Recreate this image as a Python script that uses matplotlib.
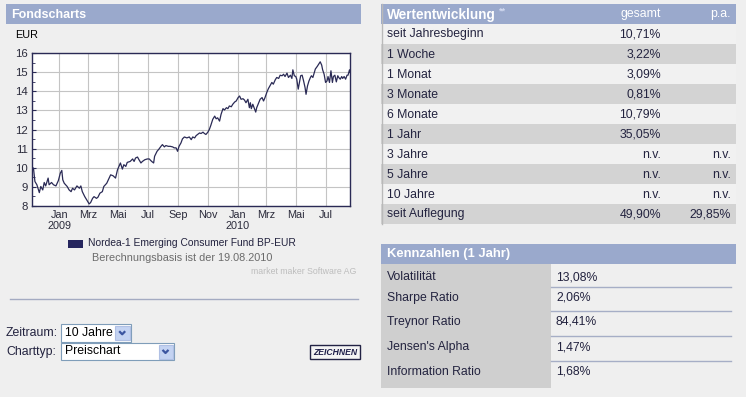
import numpy as np
import matplotlib
matplotlib.use("Agg")
import matplotlib.pyplot as plt
import matplotlib.dates as mdates
from matplotlib.patches import Rectangle

plt.rcParams['font.family'] = ['Liberation Sans', 'DejaVu Sans']

# price series (EUR)
dates = [
    "2008-11-06", "2008-11-09", "2008-11-12", "2008-11-16", "2008-11-21", "2008-11-24",
    "2008-11-28", "2008-12-01", "2008-12-04", "2008-12-09", "2008-12-11", "2008-12-16",
    "2008-12-20", "2008-12-25", "2008-12-30", "2009-01-03", "2009-01-06", "2009-01-08",
    "2009-01-11", "2009-01-17", "2009-01-21", "2009-01-25", "2009-01-28", "2009-02-01",
    "2009-02-06", "2009-02-11", "2009-02-14", "2009-02-17", "2009-02-22", "2009-02-28",
    "2009-03-03", "2009-03-06", "2009-03-10", "2009-03-13", "2009-03-18", "2009-03-21",
    "2009-03-25", "2009-03-30", "2009-04-02", "2009-04-08", "2009-04-13", "2009-04-16",
    "2009-04-21", "2009-04-26", "2009-04-30", "2009-05-03", "2009-05-06", "2009-05-10",
    "2009-05-13", "2009-05-17", "2009-05-20", "2009-05-26", "2009-05-31", "2009-06-03",
    "2009-06-06", "2009-06-10", "2009-06-13", "2009-06-17", "2009-06-20", "2009-06-25",
    "2009-06-30", "2009-07-04", "2009-07-09", "2009-07-13", "2009-07-15", "2009-07-20",
    "2009-07-24", "2009-07-28", "2009-07-31", "2009-08-04", "2009-08-07", "2009-08-12",
    "2009-08-16", "2009-08-21", "2009-08-24", "2009-08-28", "2009-08-31", "2009-09-03",
    "2009-09-07", "2009-09-10", "2009-09-14", "2009-09-19", "2009-09-24", "2009-09-28",
    "2009-10-01", "2009-10-05", "2009-10-08", "2009-10-11", "2009-10-15", "2009-10-18",
    "2009-10-22", "2009-10-25", "2009-10-28", "2009-11-01", "2009-11-04", "2009-11-07",
    "2009-11-11", "2009-11-15", "2009-11-18", "2009-11-21", "2009-11-25", "2009-11-28",
    "2009-12-02", "2009-12-05", "2009-12-09", "2009-12-12", "2009-12-15", "2009-12-19",
    "2009-12-22", "2009-12-26", "2009-12-29", "2010-01-02", "2010-01-05", "2010-01-08",
    "2010-01-12", "2010-01-15", "2010-01-18", "2010-01-22", "2010-01-25", "2010-01-27",
    "2010-01-29", "2010-02-01", "2010-02-05", "2010-02-07", "2010-02-09", "2010-02-13",
    "2010-02-16", "2010-02-20", "2010-02-23", "2010-02-26", "2010-03-02", "2010-03-05",
    "2010-03-09", "2010-03-12", "2010-03-15", "2010-03-19", "2010-03-22", "2010-03-26",
    "2010-03-29", "2010-04-02", "2010-04-05", "2010-04-08", "2010-04-12", "2010-04-15",
    "2010-04-19", "2010-04-22", "2010-04-24", "2010-04-27", "2010-04-30", "2010-05-02",
    "2010-05-05", "2010-05-08", "2010-05-10", "2010-05-13", "2010-05-16", "2010-05-19",
    "2010-05-21", "2010-05-24", "2010-05-27", "2010-05-30", "2010-06-01", "2010-06-04",
    "2010-06-07", "2010-06-09", "2010-06-13", "2010-06-16", "2010-06-19", "2010-06-22",
    "2010-06-24", "2010-06-27", "2010-06-30", "2010-07-03", "2010-07-05", "2010-07-08",
    "2010-07-11", "2010-07-14", "2010-07-16", "2010-07-19", "2010-07-22", "2010-07-25",
    "2010-07-27", "2010-07-30", "2010-08-02", "2010-08-04", "2010-08-07", "2010-08-10",
    "2010-08-13", "2010-08-15", "2010-08-18", "2010-08-19",
]
prices = [
    10.02, 9.98, 9.28, 9.11, 8.70, 9.02,
    8.84, 9.23, 9.05, 9.46, 9.11, 9.23,
    9.11, 9.05, 9.33, 9.72, 9.86, 9.37,
    9.19, 9.02, 8.84, 8.75, 8.93, 8.84,
    9.05, 8.93, 9.05, 8.75, 8.49, 8.23,
    8.11, 8.18, 8.40, 8.49, 8.40, 8.46,
    8.67, 8.75, 9.02, 9.19, 9.46, 9.63,
    9.58, 9.46, 9.89, 10.07, 10.25, 9.93,
    10.16, 10.07, 10.28, 10.33, 10.46, 10.33,
    10.51, 10.56, 10.42, 10.25, 10.33, 10.42,
    10.46, 10.46, 10.33, 10.25, 10.60, 10.86,
    10.98, 11.12, 11.21, 11.09, 11.16, 11.12,
    11.12, 11.09, 11.04, 11.04, 10.86, 11.12,
    11.30, 11.51, 11.61, 11.56, 11.61, 11.47,
    11.61, 11.56, 11.68, 11.74, 11.82, 11.79,
    11.86, 11.79, 11.74, 11.86, 12.00, 12.21,
    12.53, 12.70, 12.56, 12.61, 12.44, 12.79,
    13.09, 13.02, 13.14, 13.09, 13.23, 13.19,
    13.32, 13.44, 13.49, 13.67, 13.75, 13.58,
    13.61, 13.54, 13.40, 13.58, 13.14, 13.40,
    13.09, 13.32, 13.05, 12.91, 13.14, 13.40,
    13.58, 13.67, 13.49, 13.67, 13.96, 14.14,
    14.32, 14.46, 14.37, 14.60, 14.72, 14.67,
    14.84, 14.81, 14.89, 14.77, 14.95, 14.72,
    14.84, 14.67, 15.12, 14.81, 14.77, 14.63,
    14.11, 14.54, 14.81, 14.84, 14.54, 14.19,
    13.84, 14.28, 14.54, 14.72, 14.81, 14.72,
    14.98, 15.16, 15.30, 15.42, 15.54, 15.37,
    15.12, 14.89, 14.46, 14.54, 14.77, 14.46,
    15.07, 14.46, 14.77, 14.84, 14.49, 14.81,
    14.72, 14.63, 14.77, 14.67, 14.77, 14.63,
    14.84, 14.84, 15.12, 14.98,
]

fund_name = "Nordea-1 Emerging Consumer Fund BP-EUR"
basis_text = "Berechnungsbasis ist der 19.08.2010"
month_names = ["Jan", "Feb", "Mrz", "Apr", "Mai", "Jun",
               "Jul", "Aug", "Sep", "Okt", "Nov", "Dez"]

perf_labels = ["seit Jahresbeginn", "1 Woche", "1 Monat", "3 Monate", "6 Monate",
               "1 Jahr", "3 Jahre", "5 Jahre", "10 Jahre", "seit Auflegung"]
perf_total = ["10,71%", "3,22%", "3,09%", "0,81%", "10,79%",
              "35,05%", "n.v.", "n.v.", "n.v.", "49,90%"]
perf_pa = ["", "", "", "", "", "", "n.v.", "n.v.", "n.v.", "29,85%"]

kenn_labels = ["Volatilität", "Sharpe Ratio", "Treynor Ratio",
               "Jensen's Alpha", "Information Ratio"]
kenn_values = ["13,08%", "2,06%", "84,41%", "1,47%", "1,68%"]

W, H = 746, 397
BG = "#efefef"
HEAD = "#9aa9cc"
TXT = "#23233f"
ROW_LIGHT = "#f1f1f1"
ROW_DARK = "#d3d3d3"
FS = 8.8

fig = plt.figure(figsize=(W / 100, H / 100), dpi=100, facecolor=BG)

# page layer in pixel coordinates
pg = fig.add_axes([0, 0, 1, 1], zorder=0)
pg.set_xlim(0, W)
pg.set_ylim(H, 0)
pg.axis("off")


def box(x0, y0, x1, y1, fc, ec="none", lw=0.8):
    pg.add_patch(Rectangle((x0, y0), x1 - x0, y1 - y0, facecolor=fc,
                           edgecolor=ec, linewidth=lw))


def txt(x, y, s, **kw):
    kw.setdefault("fontsize", FS)
    kw.setdefault("color", TXT)
    kw.setdefault("va", "center")
    pg.text(x, y, s, **kw)


# --- left panel: Fondscharts ---
box(6, 4, 361, 24, HEAD)
txt(11, 14.5, "Fondscharts", color="white", fontweight="bold", fontsize=9.0)
txt(15, 35, "EUR", fontsize=7.8, color="black")

# legend & notes
box(68, 240, 83, 248, "#26265e")
txt(88, 243.5, fund_name, fontsize=7.4)
txt(182, 258, basis_text, fontsize=7.8, color="#6b6b6b", ha="center")
txt(356, 272, "market maker Software AG", fontsize=6.3, color="#bdbdbd", ha="right")

pg.plot([10, 358], [299, 299], color="#a4abc2", lw=1)

# form controls
sel_ec = "#7f9db9"
txt(6, 333, "Zeitraum:")
box(61, 324, 131, 342, "white", sel_ec)
box(115, 326, 129.5, 340, "#c4d3f2", "#b0c0e4")
txt(65, 333, "10 Jahre", color="black")
txt(6, 351.5, "Charttyp:")
box(61, 343, 174, 360, "white", sel_ec)
box(158.5, 345, 172.5, 358.5, "#c4d3f2", "#b0c0e4")
txt(65, 351.5, "Preischart", color="black")
for cx, cy in [(122.2, 333), (165.5, 351.7)]:
    pg.plot([cx - 3, cx, cx + 3], [cy - 1.8, cy + 1.3, cy - 1.8],
            color="#3b55a0", lw=1.6, solid_capstyle="butt")

box(310, 345, 360, 359, "#f4f4f4", "#222244", lw=1)
txt(335, 352.2, "ZEICHNEN", fontsize=6.2, fontweight="bold", style="italic",
    ha="center", color="#1f1f4a")

# --- right panel: Wertentwicklung ---
box(381, 4, 736, 24, HEAD)
txt(387, 14.5, "Wertentwicklung", color="white", fontweight="bold", fontsize=9.8)
txt(499, 11, "**", color="#d2daf0", fontsize=6.5, fontweight="bold")
txt(661, 14.5, "gesamt", color="white", ha="right")
txt(731, 14.5, "p.a.", color="white", ha="right")

for i, lab in enumerate(perf_labels):
    y0 = 24 + i * 20
    box(381, y0, 736, y0 + 20, ROW_LIGHT if i % 2 == 0 else ROW_DARK)
    txt(387, y0 + 10.5, lab)
    txt(661, y0 + 10.5, perf_total[i], ha="right")
    if perf_pa[i]:
        txt(731, y0 + 10.5, perf_pa[i], ha="right")
pg.plot([381.5, 381.5], [4, 224], color="#b9b9b9", lw=1)

# --- Kennzahlen ---
box(381, 244, 736, 264, HEAD)
txt(387, 254, "Kennzahlen (1 Jahr)", color="white", fontweight="bold", fontsize=9.4)
box(381, 264, 551, 388, "#cfcfcf")
kenn_y = [277, 298, 322, 347, 372]
for i, lab in enumerate(kenn_labels):
    txt(387, kenn_y[i], lab)
    txt(556, kenn_y[i], kenn_values[i])
for ly in [286.5, 311, 336, 361]:
    pg.plot([551, 731], [ly, ly], color="#a6aec6", lw=1)

# --- price chart ---
ax = fig.add_axes([32 / W, 1 - 206 / H, 318 / W, 153 / H], zorder=2)
ax.set_facecolor("white")
x = np.array(dates, dtype="datetime64[D]")
ax.plot(x, prices, color="#2a2a55", lw=0.9)
ax.set_xlim(np.datetime64("2008-11-06"), np.datetime64("2010-08-19"))
ax.set_ylim(8, 16)
ax.set_yticks(range(8, 17))
ax.set_yticks(np.arange(8, 16, 0.5), minor=True)

ax.xaxis.set_major_locator(mdates.MonthLocator(bymonth=[1, 3, 5, 7, 9, 11]))


def month_fmt(v, pos=None):
    d = mdates.num2date(v)
    s = month_names[d.month - 1]
    if d.month == 1:
        s += "\n" + str(d.year)
    return s


ax.xaxis.set_major_formatter(plt.FuncFormatter(month_fmt))
ax.grid(True, color="#c4c4c4", lw=0.8)
ax.tick_params(axis="x", length=0, pad=3, labelsize=7.8, labelcolor="#2b2b3b")
ax.tick_params(axis="y", which="major", length=3, direction="in", pad=3,
               labelsize=8.2, labelcolor="#2b2b3b", color="#2a2a55")
ax.tick_params(axis="y", which="minor", length=2, direction="in", color="#2a2a55")
for sp in ax.spines.values():
    sp.set_color("#2a2a55")
    sp.set_linewidth(1)
for lbl in ax.get_xticklabels():
    lbl.set_linespacing(1.15)

fig.savefig("out.png", dpi=100, facecolor=BG)
